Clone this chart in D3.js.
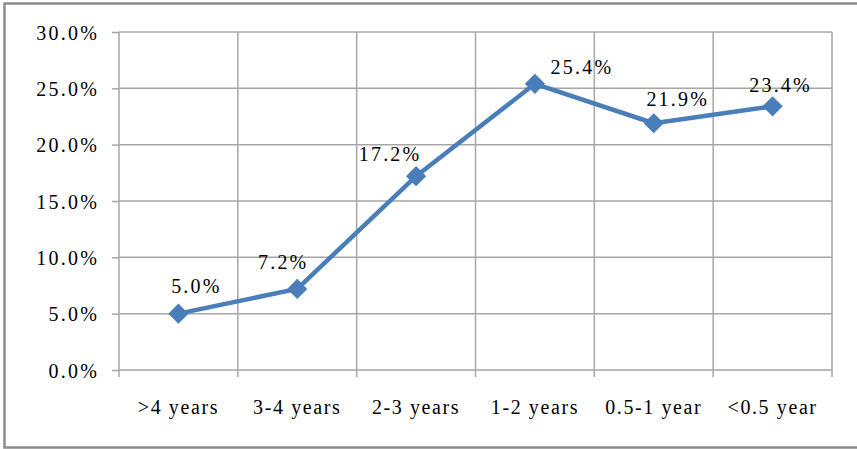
<!DOCTYPE html>
<html>
<head>
<meta charset="utf-8">
<script src="https://cdn.jsdelivr.net/npm/d3@7/dist/d3.min.js"></script>
<style>
  html, body { margin: 0; padding: 0; background: #fff; }
  svg text { font-family: 'Liberation Serif', serif; fill: #000; }
</style>
</head>
<body>
<div id="chart"></div>
<script>
// 数据
const categories = ['>4 years', '3-4 years', '2-3 years', '1-2 years', '0.5-1 year', '<0.5 year'];
const values = [5.0, 7.2, 17.2, 25.4, 21.9, 23.4];
const yTicks = [0, 5, 10, 15, 20, 25, 30];

// 数据标签相对于点的偏移 (手动摆放)
const labelOffsets = [[18, -21], [-14, -20], [-26, -15], [47, -10], [24, -17], [8, -14]];

const width = 857, height = 449;
const margin = { left: 119, right: 25, top: 32, bottom: 79 };

const svg = d3.select('#chart').append('svg')
    .attr('width', width)
    .attr('height', height);

// 外框
svg.append('path')
    .attr('d', `M${width + 5},3.5 H4.5 V447.5 H${width + 5}`)
    .attr('fill', 'none')
    .attr('stroke', '#8c8c8c')
    .attr('stroke-width', 2.5);

const x = d3.scaleBand()
    .domain(categories)
    .range([margin.left, width - margin.right]);

const y = d3.scaleLinear()
    .domain([0, 30])
    .range([height - margin.bottom, margin.top]);

const gridColor = '#a6a6a6';

// 横向网格 + y轴
const yAxis = svg.append('g')
    .attr('transform', `translate(${margin.left},0)`)
    .call(d3.axisLeft(y)
        .tickValues(yTicks)
        .tickSize(7)
        .tickPadding(13)
        .tickFormat(d => d.toFixed(1) + '%'));
yAxis.select('.domain').remove();
yAxis.selectAll('line').attr('stroke', gridColor).attr('stroke-width', 1.5);
yAxis.selectAll('text')
    .attr('font-family', 'Liberation Serif')
    .style('font-size', '20px')
    .style('letter-spacing', '2.2px')
    .attr('dy', '0.35em');

svg.append('g')
    .selectAll('line')
    .data(yTicks)
    .enter().append('line')
    .attr('x1', margin.left)
    .attr('x2', width - margin.right)
    .attr('y1', d => y(d))
    .attr('y2', d => y(d))
    .attr('stroke', gridColor)
    .attr('stroke-width', 1.5);

// 纵向网格 (类别边界)
const bounds = categories.map(c => x(c)).concat([x.range()[1]]);
svg.append('g')
    .selectAll('line')
    .data(bounds)
    .enter().append('line')
    .attr('x1', d => d)
    .attr('x2', d => d)
    .attr('y1', margin.top)
    .attr('y2', y(0) + 7)
    .attr('stroke', gridColor)
    .attr('stroke-width', 1.5);

// x轴标签
svg.append('g')
    .selectAll('text')
    .data(categories)
    .enter().append('text')
    .attr('x', d => x(d) + x.bandwidth() / 2)
    .attr('y', 414)
    .attr('text-anchor', 'middle')
    .attr('font-family', 'Liberation Serif')
    .style('font-size', '20px')
    .style('letter-spacing', '1.6px')
    .text(d => d);

// 折线
const cx = (d, i) => x(categories[i]) + x.bandwidth() / 2;
const line = d3.line()
    .x((d, i) => cx(d, i))
    .y(d => y(d));

svg.append('path')
    .datum(values)
    .attr('d', line)
    .attr('fill', 'none')
    .attr('stroke', '#4a7ebb')
    .attr('stroke-width', 4.5)
    .attr('stroke-linejoin', 'round');

// 菱形标记
svg.append('g')
    .selectAll('path')
    .data(values)
    .enter().append('path')
    .attr('d', d3.symbol().type(d3.symbolDiamond2).size(260))
    .attr('transform', (d, i) => `translate(${cx(d, i)},${y(d)})`)
    .attr('fill', '#4a7ebb');

// 数据标签
svg.append('g')
    .selectAll('text')
    .data(values)
    .enter().append('text')
    .attr('x', (d, i) => cx(d, i) + labelOffsets[i][0])
    .attr('y', (d, i) => y(d) + labelOffsets[i][1])
    .attr('text-anchor', 'middle')
    .attr('font-family', 'Liberation Serif')
    .style('font-size', '20px')
    .style('letter-spacing', '2.2px')
    .text(d => d.toFixed(1) + '%');
</script>
</body>
</html>
